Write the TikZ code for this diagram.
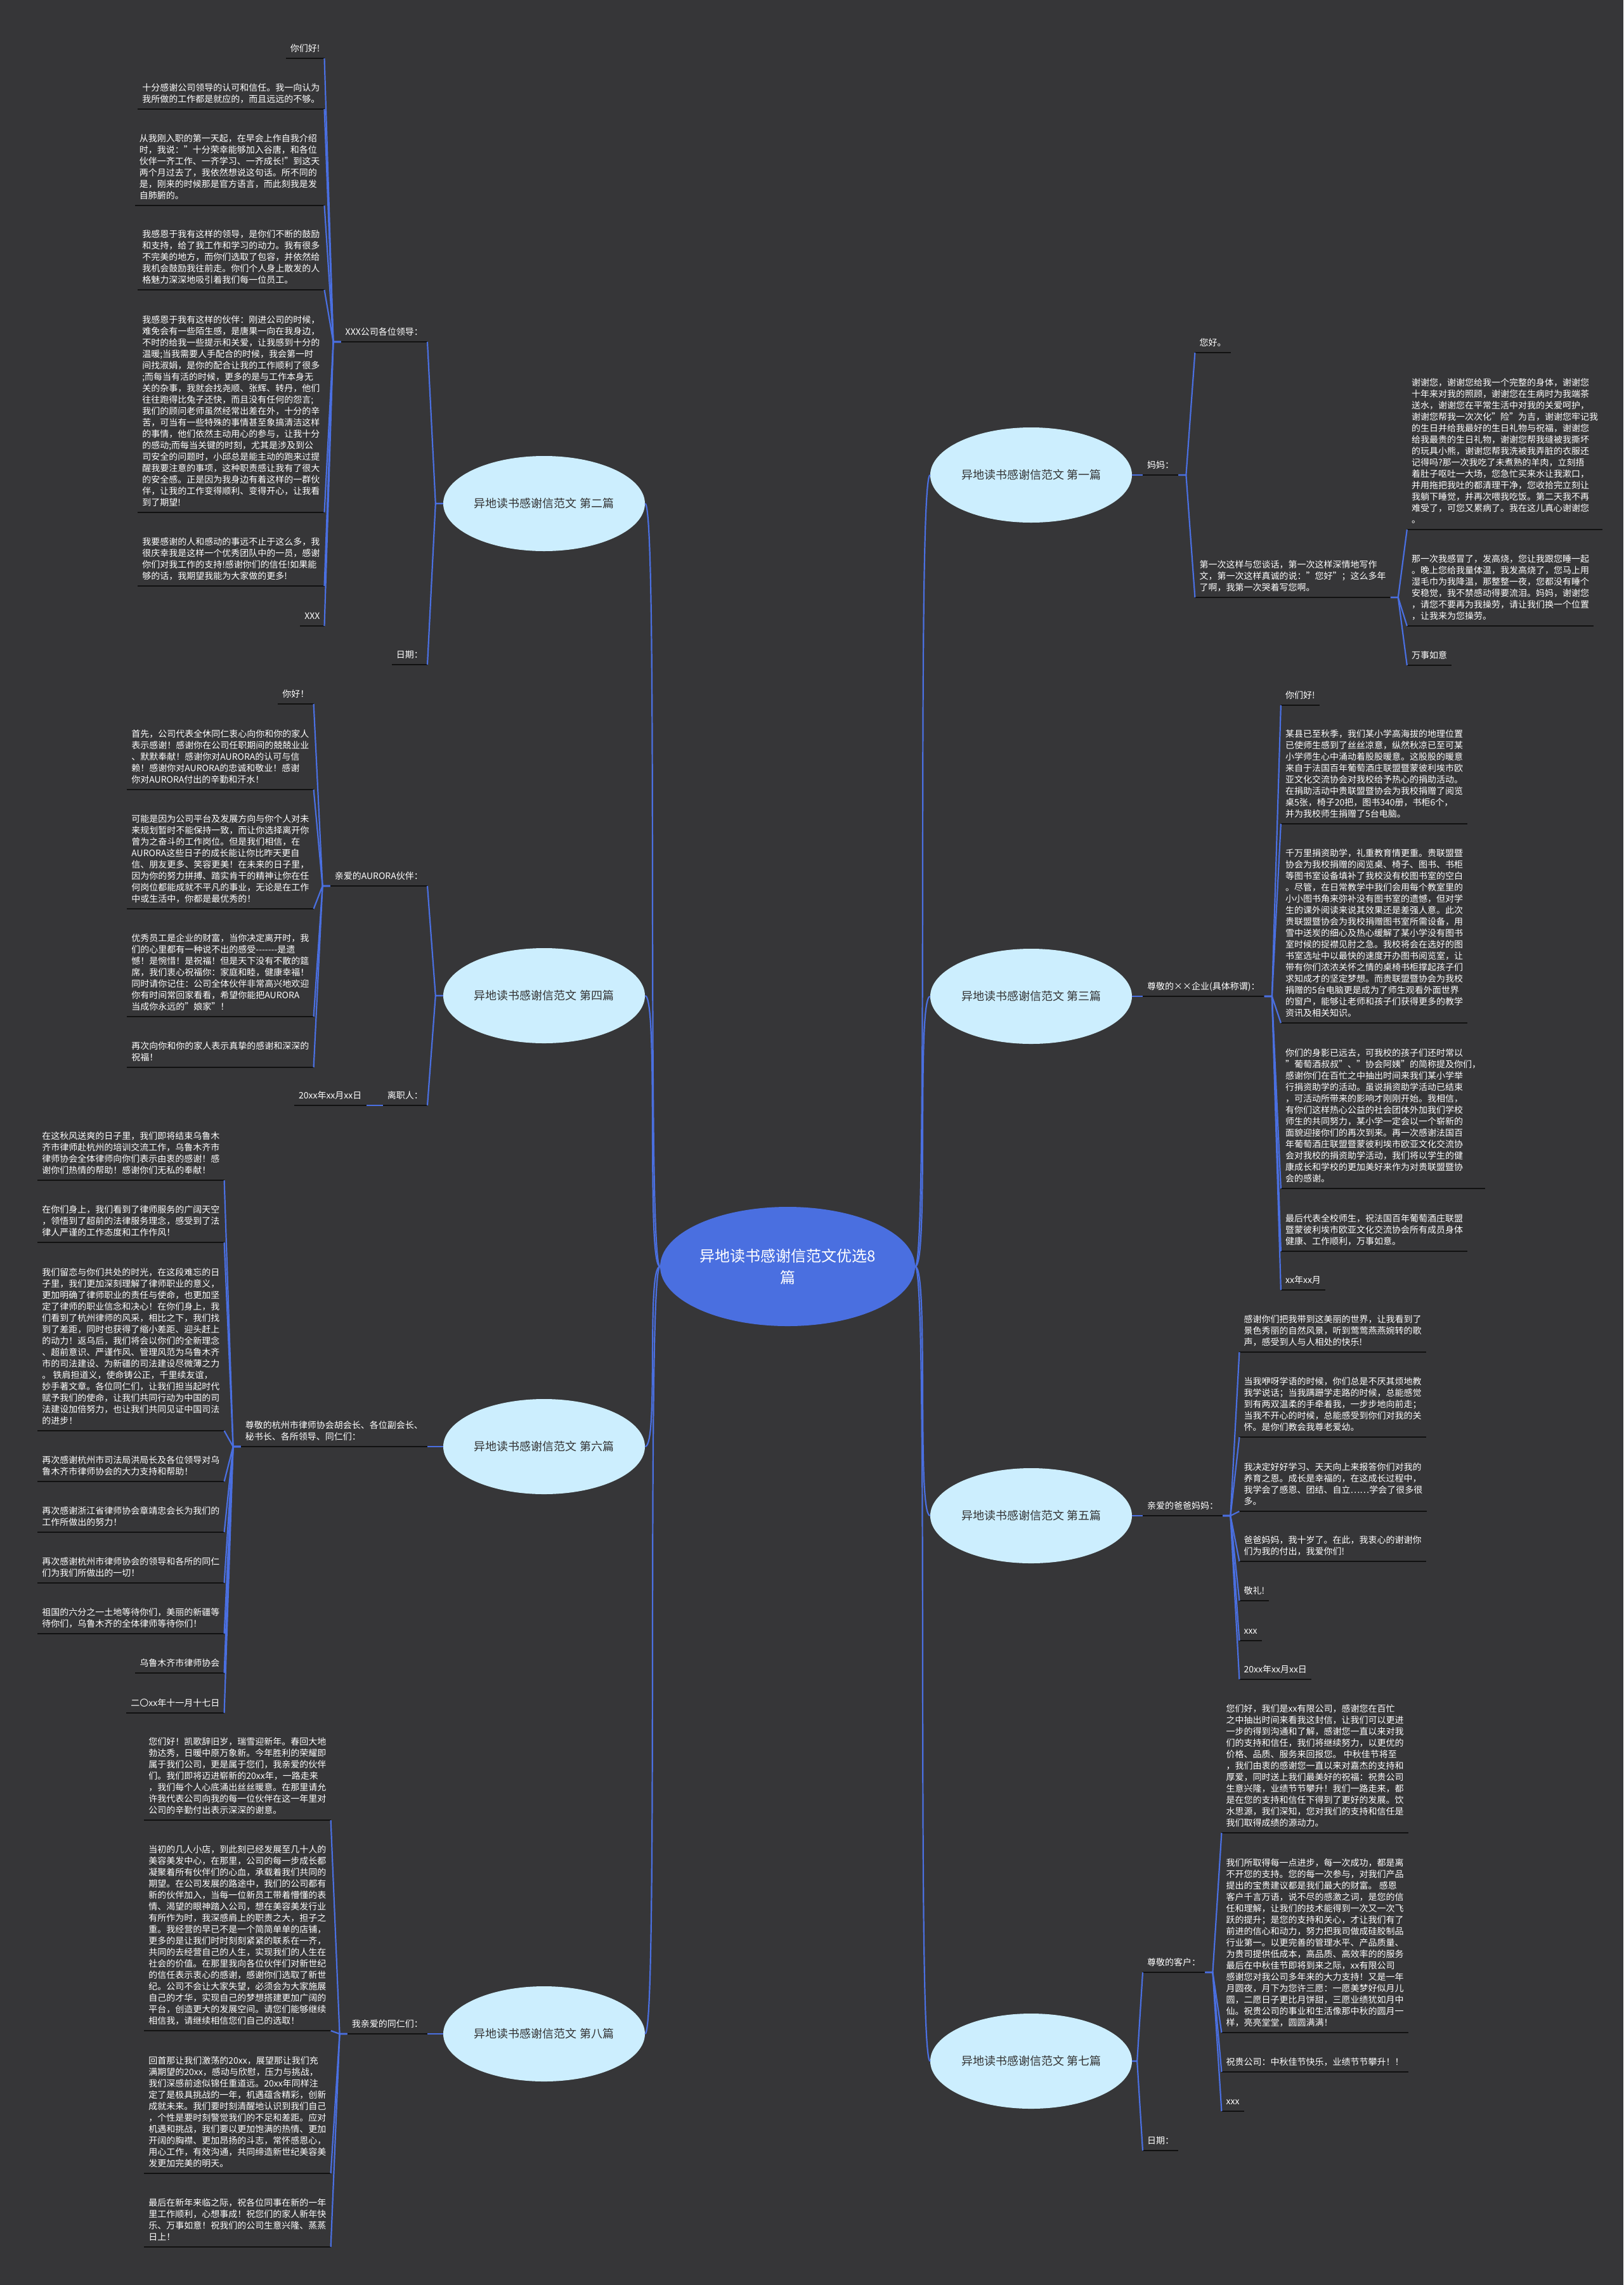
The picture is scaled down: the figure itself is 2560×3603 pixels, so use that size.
\documentclass[tikz,border=0pt]{standalone}
\usepackage{fontspec}
\setmainfont{Noto Sans CJK SC}
\usetikzlibrary{shapes.geometric}
\definecolor{bg}{HTML}{363638}
\definecolor{blu}{HTML}{4A6FE0}
\definecolor{lb}{HTML}{CCEEFE}
\definecolor{ul}{HTML}{111111}
\definecolor{dk}{HTML}{333333}
\tikzset{
  conn/.style={draw=blu, line width=2.2pt, line join=round},
  leaf/.style={font=\fontsize{14pt}{18pt}\selectfont, text=white, align=left,
    inner xsep=7pt, inner ysep=7pt, execute at end node={\rule[-3pt]{0pt}{3pt}},
    append after command={(\tikzlastnode.south west) edge[draw=ul, line width=2.4pt] (\tikzlastnode.south east)}},
  blk/.style={leaf, minimum width=294pt},
  lft/.style={anchor=south east},
  rgt/.style={anchor=south west},
  branch/.style={ellipse, fill=lb, minimum width=318pt, minimum height=150pt, inner sep=0pt,
    font=\fontsize{18pt}{22pt}\selectfont, text=dk},
  hub/.style={ellipse, fill=blu, minimum width=402pt, minimum height=188pt, inner sep=0pt,
    font=\fontsize{24pt}{34pt}\selectfont, text=white, align=center},
}
\begin{document}
\begin{tikzpicture}[x=1pt,y=-1pt]
\useasboundingbox (0,0) rectangle (2560,3603);
\fill[bg] (0,0) rectangle (2560,3603);

% hub and branches
\node[hub] (c) at (1242,1997) {异地读书感谢信范文优选8\\篇};
\node[branch] (e2) at (858,794) {异地读书感谢信范文 第二篇};
\node[branch] (e4) at (858,1570) {异地读书感谢信范文 第四篇};
\node[branch] (e6) at (858,2281) {异地读书感谢信范文 第六篇};
\node[branch] (e8) at (858,3207) {异地读书感谢信范文 第八篇};
\node[branch] (e1) at (1626,749) {异地读书感谢信范文 第一篇};
\node[branch] (e3) at (1626,1571) {异地读书感谢信范文 第三篇};
\node[branch] (e5) at (1626,2390) {异地读书感谢信范文 第五篇};
\node[branch] (e7) at (1626,3250) {异地读书感谢信范文 第七篇};
\foreach \e in {e2,e4,e6,e8}
  \draw[conn] (c.west) .. controls ([xshift=-22pt]c.west) and ([xshift=22pt]\e.east) .. (\e.east);
\foreach \e in {e1,e3,e5,e7}
  \draw[conn] (c.east) .. controls ([xshift=22pt]c.east) and ([xshift=-22pt]\e.west) .. (\e.west);

% ===== Section 2 =====
\node[leaf,lft] (s2a) at (674,539) {XXX公司各位领导：};
\node[leaf,lft] (s2b) at (674,1048) {日期：};
\coordinate (s2L) at ([xshift=-26pt]s2a.south west);
\node[leaf,lft] (s2c1) at (s2L |- 0,92) {你们好!};
\node[blk,lft] (s2c2) at (s2L |- 0,172) {十分感谢公司领导的认可和信任。我一向认为\\我所做的工作都是就应的，而且远远的不够。};
\node[blk,lft] (s2c3) at (s2L |- 0,324) {从我刚入职的第一天起，在早会上作自我介绍\\时，我说："十分荣幸能够加入谷唐，和各位\\伙伴一齐工作、一齐学习、一齐成长!"到这天\\两个月过去了，我依然想说这句话。所不同的\\是，刚来的时候那是官方语言，而此刻我是发\\自肺腑的。};
\node[blk,lft] (s2c4) at (s2L |- 0,457) {我感恩于我有这样的领导，是你们不断的鼓励\\和支持，给了我工作和学习的动力。我有很多\\不完美的地方，而你们选取了包容，并依然给\\我机会鼓励我往前走。你们个人身上散发的人\\格魅力深深地吸引着我们每一位员工。};
\node[blk,lft] (s2c5) at (s2L |- 0,808) {我感恩于我有这样的伙伴：刚进公司的时候，\\难免会有一些陌生感，是唐果一向在我身边，\\不时的给我一些提示和关爱，让我感到十分的\\温暖;当我需要人手配合的时候，我会第一时\\间找淑娟，是你的配合让我的工作顺利了很多\\;而每当有活的时候，更多的是与工作本身无\\关的杂事，我就会找尧顺、张辉、转丹，他们\\往往跑得比兔子还快，而且没有任何的怨言;\\我们的顾问老师虽然经常出差在外，十分的辛\\苦，可当有一些特殊的事情甚至象搞清洁这样\\的事情，他们依然主动用心的参与，让我十分\\的感动;而每当关键的时刻，尤其是涉及到公\\司安全的问题时，小邱总是能主动的跑来过提\\醒我要注意的事项，这种职责感让我有了很大\\的安全感。正是因为我身边有着这样的一群伙\\伴，让我的工作变得顺利、变得开心，让我看\\到了期望!};
\node[blk,lft] (s2c6) at (s2L |- 0,924) {我要感谢的人和感动的事远不止于这么多，我\\很庆幸我是这样一个优秀团队中的一员，感谢\\你们对我工作的支持!感谢你们的信任!如果能\\够的话，我期望我能为大家做的更多!};
\node[leaf,lft] (s2c7) at (s2L |- 0,987) {XXX};
\foreach \n in {s2a,s2b} \draw[conn] (e2.west) -- ++(-12,0) -- (\n.south east);
\foreach \n in {s2c1,s2c2,s2c3,s2c4,s2c5,s2c6,s2c7} \draw[conn] (s2a.south west) -- ++(-12,0) -- (\n.south east);

% ===== Section 4 =====
\node[leaf,lft] (s4a) at (674,1397) {亲爱的AURORA伙伴：};
\node[leaf,lft] (s4b) at (674,1743) {离职人：};
\coordinate (s4L) at ([xshift=-26pt]s4a.south west);
\coordinate (s4M) at ([xshift=-26pt]s4b.south west);
\node[leaf,lft] (s4b1) at (s4M) {20xx年xx月xx日};
\node[leaf,lft] (s4c1) at (s4L |- 0,1110) {你好！};
\node[blk,lft] (s4c2) at (s4L |- 0,1245) {首先，公司代表全休同仁衷心向你和你的家人\\表示感谢！感谢你在公司任职期间的兢兢业业\\、默默奉献！感谢你对AURORA的认可与信\\赖！感谢你对AURORA的忠诚和敬业！感谢\\你对AURORA付出的辛勤和汗水！};
\node[blk,lft] (s4c3) at (s4L |- 0,1433) {可能是因为公司平台及发展方向与你个人对未\\来规划暂时不能保持一致，而让你选择离开你\\曾为之奋斗的工作岗位。但是我们相信，在\\AURORA这些日子的成长能让你比昨天更自\\信、朋友更多、笑容更美！在未来的日子里，\\因为你的努力拼搏、踏实肯干的精神让你在任\\何岗位都能成就不平凡的事业，无论是在工作\\中或生活中，你都是最优秀的！};
\node[blk,lft] (s4c4) at (s4L |- 0,1603) {优秀员工是企业的财富，当你决定离开时，我\\们的心里都有一种说不出的感受-{}-{}-{}-{}-{}-{}-是遗\\憾！是惋惜！是祝福！但是天下没有不散的筵\\席，我们衷心祝福你：家庭和睦，健康幸福！\\同时请你记住：公司全体伙伴非常高兴地欢迎\\你有时间常回家看看，希望你能把AURORA\\当成你永远的"娘家"！};
\node[blk,lft] (s4c5) at (s4L |- 0,1683) {再次向你和你的家人表示真挚的感谢和深深的\\祝福！};
\foreach \n in {s4a,s4b} \draw[conn] (e4.west) -- ++(-12,0) -- (\n.south east);
\foreach \n in {s4c1,s4c2,s4c3,s4c4,s4c5} \draw[conn] (s4a.south west) -- ++(-12,0) -- (\n.south east);
\draw[conn] (s4b.south west) -- (s4b1.south east);

% ===== Section 6 =====
\node[blk,lft] (s6a) at (674,2281) {尊敬的杭州市律师协会胡会长、各位副会长、\\秘书长、各所领导、同仁们：};
\coordinate (s6L) at ([xshift=-26pt]s6a.south west);
\node[blk,lft] (s6c1) at (s6L |- 0,1861) {在这秋风送爽的日子里，我们即将结束乌鲁木\\齐市律师赴杭州的培训交流工作，乌鲁木齐市\\律师协会全体律师向你们表示由衷的感谢！感\\谢你们热情的帮助！感谢你们无私的奉献！};
\node[blk,lft] (s6c2) at (s6L |- 0,1959) {在你们身上，我们看到了律师服务的广阔天空\\，领悟到了超前的法律服务理念，感受到了法\\律人严谨的工作态度和工作作风！};
\node[blk,lft] (s6c3) at (s6L |- 0,2256) {我们留恋与你们共处的时光，在这段难忘的日\\子里，我们更加深刻理解了律师职业的意义，\\更加明确了律师职业的责任与使命，也更加坚\\定了律师的职业信念和决心！在你们身上，我\\们看到了杭州律师的风采，相比之下，我们找\\到了差距，同时也获得了缩小差距、迎头赶上\\的动力！返乌后，我们将会以你们的全新理念\\、超前意识、严谨作风、管理风范为乌鲁木齐\\市的司法建设、为新疆的司法建设尽微薄之力\\。~铁肩担道义，使命铸公正，千里续友谊，\\妙手著文章。各位同仁们，让我们担当起时代\\赋予我们的使命，让我们共同行动为中国的司\\法建设加倍努力，也让我们共同见证中国司法\\的进步！};
\node[blk,lft] (s6c4) at (s6L |- 0,2336) {再次感谢杭州市司法局洪局长及各位领导对乌\\鲁木齐市律师协会的大力支持和帮助！};
\node[blk,lft] (s6c5) at (s6L |- 0,2416) {再次感谢浙江省律师协会章靖忠会长为我们的\\工作所做出的努力！};
\node[blk,lft] (s6c6) at (s6L |- 0,2496) {再次感谢杭州市律师协会的领导和各所的同仁\\们为我们所做出的一切！};
\node[blk,lft] (s6c7) at (s6L |- 0,2576) {祖国的六分之一土地等待你们，美丽的新疆等\\待你们，乌鲁木齐的全体律师等待你们！};
\node[leaf,lft] (s6c8) at (s6L |- 0,2638) {乌鲁木齐市律师协会};
\node[leaf,lft] (s6c9) at (s6L |- 0,2701) {二〇xx年十一月十七日};
\draw[conn] (e6.west) -- (s6a.south east);
\foreach \n in {s6c1,s6c2,s6c3,s6c4,s6c5,s6c6,s6c7,s6c8,s6c9} \draw[conn] (s6a.south west) -- ++(-12,0) -- (\n.south east);

% ===== Section 8 =====
\node[leaf,lft] (s8a) at (674,3207) {我亲爱的同仁们：};
\coordinate (s8L) at ([xshift=-26pt]s8a.south west);
\node[blk,lft] (s8c1) at (s8L |- 0,2870) {您们好！凯歌辞旧岁，瑞雪迎新年。春回大地\\勃达秀，日暖中原万象新。今年胜利的荣耀即\\属于我们公司，更是属于您们，我亲爱的伙伴\\们。我们即将迈进崭新的20xx年，一路走来\\，我们每个人心底涌出丝丝暖意。在那里请允\\许我代表公司向我的每一位伙伴在这一年里对\\公司的辛勤付出表示深深的谢意。};
\node[blk,lft] (s8c2) at (s8L |- 0,3202) {当初的几人小店，到此刻已经发展至几十人的\\美容美发中心，在那里，公司的每一步成长都\\凝聚着所有伙伴们的心血，承载着我们共同的\\期望。在公司发展的路途中，我们的公司都有\\新的伙伴加入，当每一位新员工带着懵懂的表\\情、渴望的眼神踏入公司，想在美容美发行业\\有所作为时，我深感肩上的职责之大，担子之\\重。我经营的早已不是一个简简单单的店铺，\\更多的是让我们时时刻刻紧紧的联系在一齐，\\共同的去经营自己的人生，实现我们的人生在\\社会的价值。在那里我向各位伙伴们对新世纪\\的信任表示衷心的感谢，感谢你们选取了新世\\纪。公司不会让大家失望，必须会为大家施展\\自己的才华，实现自己的梦想搭建更加广阔的\\平台，创造更大的发展空间。请您们能够继续\\相信我，请继续相信您们自己的选取！};
\node[blk,lft] (s8c3) at (s8L |- 0,3427) {回首那让我们激荡的20xx，展望那让我们充\\满期望的20xx，感动与欣慰，压力与挑战，\\我们深感前途似锦任重道远。20xx年同样注\\定了是极具挑战的一年，机遇蕴含精彩，创新\\成就未来。我们要时刻清醒地认识到我们自己\\，个性是要时刻警觉我们的不足和差距。应对\\机遇和挑战，我们要以更加饱满的热情、更加\\开阔的胸襟、更加昂扬的斗志，常怀感恩心，\\用心工作，有效沟通，共同缔造新世纪美容美\\发更加完美的明天。};
\node[blk,lft] (s8c4) at (s8L |- 0,3543) {最后在新年来临之际，祝各位同事在新的一年\\里工作顺利，心想事成！祝您们的家人新年快\\乐、万事如意！祝我们的公司生意兴隆、蒸蒸\\日上！};
\draw[conn] (e8.west) -- (s8a.south east);
\foreach \n in {s8c1,s8c2,s8c3,s8c4} \draw[conn] (s8a.south west) -- ++(-12,0) -- (\n.south east);

% ===== Section 1 =====
\node[leaf,rgt] (s1a) at (1802,749) {妈妈：};
\coordinate (s1R) at ([xshift=26pt]s1a.south east);
\node[leaf,rgt] (s1c1) at (s1R |- 0,556) {您好。};
\node[blk,rgt] (s1c2) at (s1R |- 0,942) {第一次这样与您谈话，第一次这样深情地写作\\文，第一次这样真诚的说："您好"；这么多年\\了啊，我第一次哭着写您啊。};
\coordinate (s1S) at ([xshift=26pt]s1c2.south east);
\node[blk,rgt] (s1d1) at (s1S |- 0,835) {谢谢您，谢谢您给我一个完整的身体，谢谢您\\十年来对我的照顾，谢谢您在生病时为我端茶\\送水，谢谢您在平常生活中对我的关爱呵护，\\谢谢您帮我一次次化"险"为吉，谢谢您牢记我\\的生日并给我最好的生日礼物与祝福，谢谢您\\给我最贵的生日礼物，谢谢您帮我缝被我撕坏\\的玩具小熊，谢谢您帮我洗被我弄脏的衣服还\\记得吗?那一次我吃了未煮熟的羊肉，立刻捂\\着肚子呕吐一大场，您急忙买来水让我漱口，\\并用拖把我吐的都清理干净，您收拾完立刻让\\我躺下睡觉，并再次喂我吃饭。第二天我不再\\难受了，可您又累病了。我在这儿真心谢谢您\\。};
\node[blk,rgt] (s1d2) at (s1S |- 0,987) {那一次我感冒了，发高烧，您让我跟您睡一起\\。晚上您给我量体温，我发高烧了，您马上用\\湿毛巾为我降温，那整整一夜，您都没有睡个\\安稳觉，我不禁感动得要流泪。妈妈，谢谢您\\，请您不要再为我操劳，请让我们换一个位置\\，让我来为您操劳。};
\node[leaf,rgt] (s1d3) at (s1S |- 0,1049) {万事如意};
\draw[conn] (e1.east) -- (s1a.south west);
\foreach \n in {s1c1,s1c2} \draw[conn] (s1a.south east) -- ++(12,0) -- (\n.south west);
\foreach \n in {s1d1,s1d2,s1d3} \draw[conn] (s1c2.south east) -- ++(12,0) -- (\n.south west);

% ===== Section 3 =====
\node[leaf,rgt] (s3a) at (1802,1571) {尊敬的××企业(具体称谓)：};
\coordinate (s3R) at ([xshift=26pt]s3a.south east);
\node[leaf,rgt] (s3c1) at (s3R |- 0,1112) {你们好!};
\node[blk,rgt] (s3c2) at (s3R |- 0,1299) {某县已至秋季，我们某小学高海拔的地理位置\\已使师生感到了丝丝凉意，纵然秋凉已至可某\\小学师生心中涌动着股股暖意。这股股的暖意\\来自于法国百年葡萄酒庄联盟暨蒙彼利埃市欧\\亚文化交流协会对我校给予热心的捐助活动。\\在捐助活动中贵联盟暨协会为我校捐赠了阅览\\桌5张，椅子20把，图书340册，书柜6个，\\并为我校师生捐赠了5台电脑。};
\node[blk,rgt] (s3c3) at (s3R |- 0,1613) {千万里捐资助学，礼重教育情更重。贵联盟暨\\协会为我校捐赠的阅览桌、椅子、图书、书柜\\等图书室设备填补了我校没有校图书室的空白\\。尽管，在日常教学中我们会用每个教室里的\\小小图书角来弥补没有图书室的遗憾，但对学\\生的课外阅读来说其效果还是差强人意。此次\\贵联盟暨协会为我校捐赠图书室所需设备，用\\雪中送炭的细心及热心缓解了某小学没有图书\\室时候的捉襟见肘之急。我校将会在选好的图\\书室选址中以最快的速度开办图书阅览室，让\\带有你们浓浓关怀之情的桌椅书柜撑起孩子们\\求知成才的坚定梦想。而贵联盟暨协会为我校\\捐赠的5台电脑更是成为了师生观看外面世界\\的窗户，能够让老师和孩子们获得更多的教学\\资讯及相关知识。};
\node[blk,rgt] (s3c4) at (s3R |- 0,1874) {你们的身影已远去，可我校的孩子们还时常以\\"葡萄酒叔叔"、"协会阿姨"的简称提及你们，\\感谢你们在百忙之中抽出时间来我们某小学举\\行捐资助学的活动。虽说捐资助学活动已结束\\，可活动所带来的影响才刚刚开始。我相信，\\有你们这样热心公益的社会团体外加我们学校\\师生的共同努力，某小学一定会以一个崭新的\\面貌迎接你们的再次到来。再一次感谢法国百\\年葡萄酒庄联盟暨蒙彼利埃市欧亚文化交流协\\会对我校的捐资助学活动，我们将以学生的健\\康成长和学校的更加美好来作为对贵联盟暨协\\会的感谢。};
\node[blk,rgt] (s3c5) at (s3R |- 0,1973) {最后代表全校师生，祝法国百年葡萄酒庄联盟\\暨蒙彼利埃市欧亚文化交流协会所有成员身体\\健康、工作顺利，万事如意。};
\node[leaf,rgt] (s3c6) at (s3R |- 0,2034) {xx年xx月};
\draw[conn] (e3.east) -- (s3a.south west);
\foreach \n in {s3c1,s3c2,s3c3,s3c4,s3c5,s3c6} \draw[conn] (s3a.south east) -- ++(12,0) -- (\n.south west);

% ===== Section 5 =====
\node[leaf,rgt] (s5a) at (1802,2390) {亲爱的爸爸妈妈：};
\coordinate (s5R) at ([xshift=26pt]s5a.south east);
\node[blk,rgt] (s5c1) at (s5R |- 0,2132) {感谢你们把我带到这美丽的世界，让我看到了\\景色秀丽的自然风景，听到莺莺燕燕婉转的歌\\声，感受到人与人相处的快乐!};
\node[blk,rgt] (s5c2) at (s5R |- 0,2266) {当我咿呀学语的时候，你们总是不厌其烦地教\\我学说话；当我蹒跚学走路的时候，总能感觉\\到有两双温柔的手牵着我，一步步地向前走；\\当我不开心的时候，总能感受到你们对我的关\\怀。是你们教会我尊老爱幼。};
\node[blk,rgt] (s5c3) at (s5R |- 0,2383) {我决定好好学习、天天向上来报答你们对我的\\养育之恩。成长是幸福的，在这成长过程中，\\我学会了感恩、团结、自立……学会了很多很\\多。};
\node[blk,rgt] (s5c4) at (s5R |- 0,2462) {爸爸妈妈，我十岁了。在此，我衷心的谢谢你\\们为我的付出，我爱你们!};
\node[leaf,rgt] (s5c5) at (s5R |- 0,2524) {敬礼!};
\node[leaf,rgt] (s5c6) at (s5R |- 0,2587) {xxx};
\node[leaf,rgt] (s5c7) at (s5R |- 0,2648) {20xx年xx月xx日};
\draw[conn] (e5.east) -- (s5a.south west);
\foreach \n in {s5c1,s5c2,s5c3,s5c4,s5c5,s5c6,s5c7} \draw[conn] (s5a.south east) -- ++(12,0) -- (\n.south west);

% ===== Section 7 =====
\node[leaf,rgt] (s7a) at (1802,3110) {尊敬的客户：};
\node[leaf,rgt] (s7b) at (1802,3391) {日期：};
\coordinate (s7R) at ([xshift=26pt]s7a.south east);
\node[blk,rgt] (s7c1) at (s7R |- 0,2890) {您们好，我们是xx有限公司，感谢您在百忙\\之中抽出时间来看我这封信，让我们可以更进\\一步的得到沟通和了解，感谢您一直以来对我\\们的支持和信任，我们将继续努力，以更优的\\价格、品质、服务来回报您。~中秋佳节将至\\，我们由衷的感谢您一直以来对嘉杰的支持和\\厚爱，同时送上我们最美好的祝福：祝贵公司\\生意兴隆，业绩节节攀升！我们一路走来，都\\是在您的支持和信任下得到了更好的发展。饮\\水思源，我们深知，您对我们的支持和信任是\\我们取得成绩的源动力。};
\node[blk,rgt] (s7c2) at (s7R |- 0,3205) {我们所取得每一点进步，每一次成功，都是离\\不开您的支持。您的每一次参与，对我们产品\\提出的宝贵建议都是我们最大的财富。~感恩\\客户千言万语，说不尽的感激之词，是您的信\\任和理解，让我们的技术能得到一次又一次飞\\跃的提升；是您的支持和关心，才让我们有了\\前进的信心和动力，努力把我司做成硅胶制品\\行业第一。以更完善的管理水平、产品质量、\\为贵司提供低成本，高品质、高效率的的服务\\最后在中秋佳节即将到来之际，xx有限公司\\感谢您对我公司多年来的大力支持！又是一年\\月圆夜，月下为您许三愿：一愿美梦好似月儿\\圆，二愿日子更比月饼甜，三愿业绩犹如月中\\仙。祝贵公司的事业和生活像那中秋的圆月一\\样，亮亮堂堂，圆圆满满！};
\node[blk,rgt] (s7c3) at (s7R |- 0,3267) {祝贵公司：中秋佳节快乐，业绩节节攀升！！};
\node[leaf,rgt] (s7c4) at (s7R |- 0,3329) {xxx};
\foreach \n in {s7a,s7b} \draw[conn] (e7.east) -- ++(8,0) -- (\n.south west);
\foreach \n in {s7c1,s7c2,s7c3,s7c4} \draw[conn] (s7a.south east) -- ++(12,0) -- (\n.south west);
\end{tikzpicture}
\end{document}
